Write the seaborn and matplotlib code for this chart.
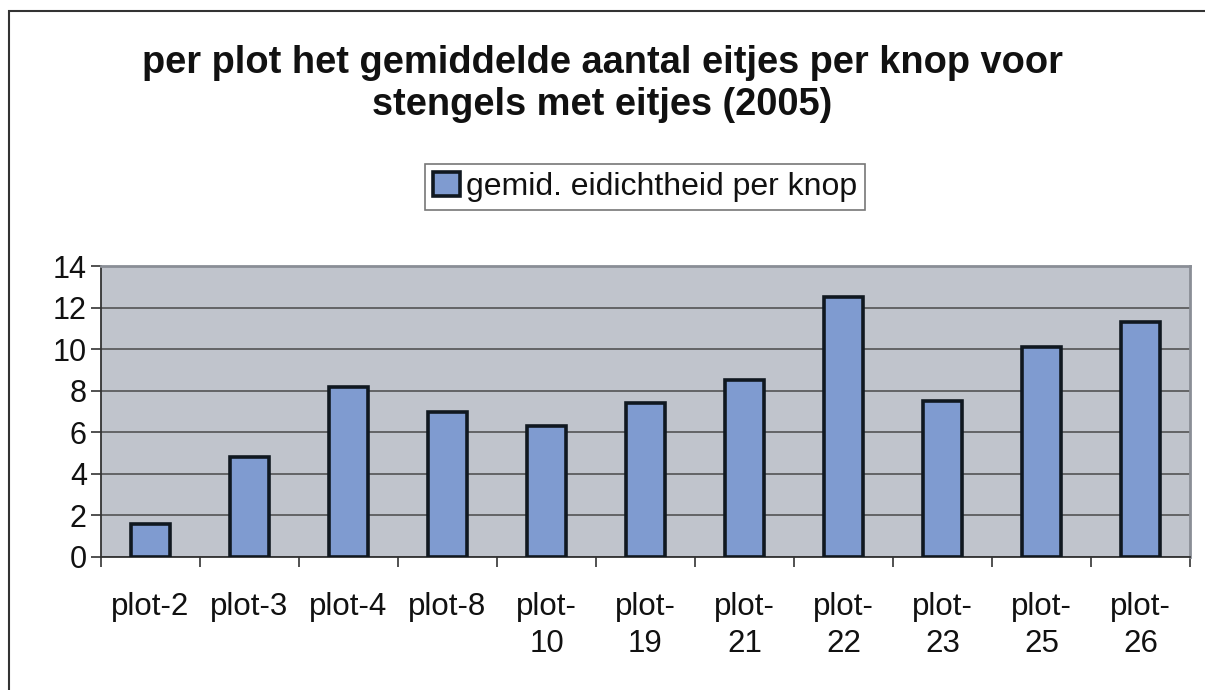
import matplotlib
matplotlib.use("Agg")
import matplotlib.pyplot as plt
import seaborn as sns
import numpy as np
import pandas as pd
from matplotlib.patches import Rectangle

categories = ["plot-2", "plot-3", "plot-4", "plot-8", "plot-10", "plot-19",
              "plot-21", "plot-22", "plot-23", "plot-25", "plot-26"]
tick_labels = ["plot-2", "plot-3", "plot-4", "plot-8", "plot-\n10", "plot-\n19",
               "plot-\n21", "plot-\n22", "plot-\n23", "plot-\n25", "plot-\n26"]
values = [1.6, 4.8, 8.2, 7.0, 6.3, 7.4, 8.5, 12.5, 7.5, 10.1, 11.3]
series_name = "gemid. eidichtheid per knop"
title = "per plot het gemiddelde aantal eitjes per knop voor\nstengels met eitjes (2005)"

sns.set_style("white")
plt.rcParams['font.family'] = ['Liberation Sans', 'DejaVu Sans']
plt.rcParams['text.color'] = '#111111'
plt.rcParams['xtick.color'] = '#111111'
plt.rcParams['ytick.color'] = '#111111'

fig = plt.figure(figsize=(12.05, 6.9), dpi=100)
ax = fig.add_axes([101/1205, 1-557/690, (1190-101)/1205, (557-266)/690])

df = pd.DataFrame({"cat": categories, "val": values})
sns.barplot(data=df, x="cat", y="val", color="#7F9BD0", saturation=1,
            edgecolor="#101820", linewidth=2.6, width=0.4, ax=ax,
            label=series_name, zorder=3)
if ax.get_legend() is not None:
    ax.get_legend().remove()

ax.set_facecolor("#C0C4CC")
ax.set_ylim(0, 14)
ax.set_xlim(-0.5, len(categories) - 0.5)
ax.set_yticks(np.arange(0, 15, 2))
ax.yaxis.grid(True, color="#4A4A4A", linewidth=1.1, zorder=1)
ax.set_axisbelow(True)
ax.set_xlabel("")
ax.set_ylabel("")

ax.set_xticks(range(len(categories)))
ax.set_xticklabels(tick_labels, fontsize=22.5, linespacing=1.3, va="top", color="#111111")
ax.set_xticks(np.arange(-0.5, len(categories), 1), minor=True)
ax.tick_params(axis="x", which="major", length=0, pad=25)
ax.tick_params(axis="x", which="minor", length=7, width=1.2, color="#333333", direction="out", bottom=True)
ax.tick_params(axis="y", length=7.2, width=1.2, color="#333333", direction="out",
               left=True, labelsize=22, pad=3, labelcolor="#111111")

for s in ["left", "bottom"]:
    ax.spines[s].set_color("#333333")
    ax.spines[s].set_linewidth(1.3)
for s in ["top", "right"]:
    ax.spines[s].set_color("#8A8E96")
    ax.spines[s].set_linewidth(2.0)

fig.text(0.5, 1 - 84/690, title, ha="center", va="center", fontsize=27.4,
         fontweight="bold", linespacing=1.2, color="#111111")

handles, labels = ax.get_legend_handles_labels()
leg = fig.legend(handles[:1], labels[:1], loc="center",
                 bbox_to_anchor=(645/1205, 1 - 187/690), fontsize=23,
                 frameon=True, fancybox=False, edgecolor="#555555",
                 handlelength=0.85, handleheight=0.8, handletextpad=0.2,
                 borderpad=0.25, borderaxespad=0)
leg.get_frame().set_linewidth(1.2)

fig.patches.append(Rectangle((9/1205, -0.05), 1.2, 1 - 11/690 + 0.05,
                             transform=fig.transFigure, fill=False,
                             edgecolor="#333333", linewidth=1.5))

fig.savefig("out.png", dpi=100)
